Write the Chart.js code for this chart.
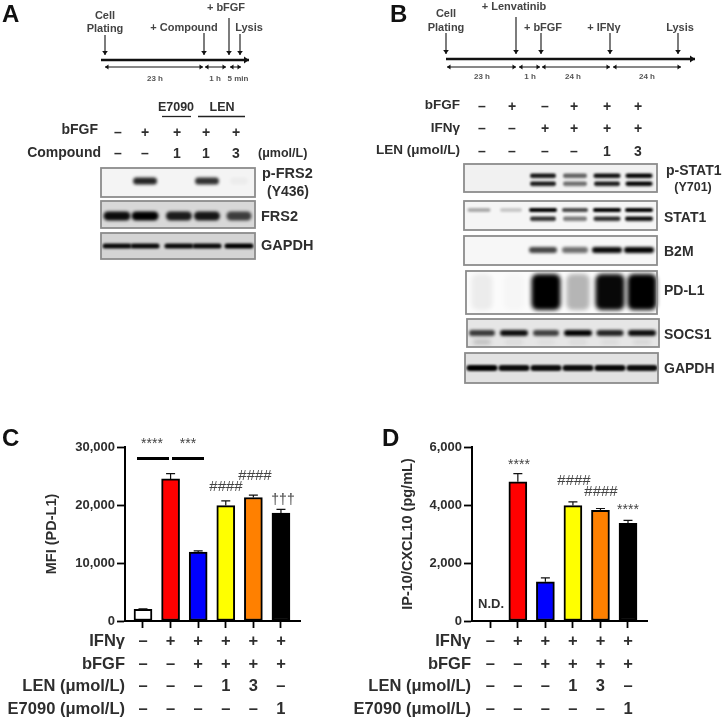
<!DOCTYPE html>
<html><head><meta charset="utf-8">
<script src="https://cdn.jsdelivr.net/npm/chart.js@4"></script>
<style>
html,body{margin:0;padding:0;background:#fff;width:723px;height:721px;overflow:hidden}
#page{position:relative;width:723px;height:721px;font-family:"Liberation Sans",Arial,sans-serif}
canvas{position:absolute;display:block}
.t{position:absolute;white-space:nowrap;line-height:1;font-weight:bold;color:#2e2e2e}
</style></head><body><div id="page"></div>
<script>
// ---------- Panel C / D data ----------
const barColors = ['#ffffff','#ff0000','#0000ff','#ffff00','#ff8000','#000000'];
const rowIFN   = ['–','+','+','+','+','+'];
const rowBFGF  = ['–','–','+','+','+','+'];
const rowLEN   = ['–','–','–','1','3','–'];
const rowE7090 = ['–','–','–','–','–','1'];
const mfiValues = [2000,24500,11900,19900,21300,18600];
const mfiUpper  = [2100,25400,12100,20700,21700,19250];
const ipValues  = [null,4800,1350,3980,3815,3370];
const ipUpper   = [null,5085,1490,4110,3880,3470];
const mfiTicks = [0,10000,20000,30000];
const ipTicks  = [0,2000,4000,6000];

// ---------- Panel A blot intensities (lanes 1-5) ----------
const pFRS2   = [0,.85,0,.8,.03];
const FRS2a   = [.95,1,.88,.9,.72];
const GAPDHa  = [.95,.95,.95,.95,1];
// ---------- Panel B blot intensities (lanes 1-6) ----------
const pSTAT1hi = [0,0,.92,.6,.95,1];
const pSTAT1lo = [0,0,.9,.55,.9,1];
const STAT1hi  = [.3,.18,1,.7,1,1];
const STAT1lo  = [0,0,.8,.5,.82,.95];
const B2M      = [0,0,.72,.55,.97,1];
const PDL1     = [.06,.02,1,.28,.97,1];
const SOCS1hi  = [.75,.95,.72,1,.85,.95];
const SOCS1lo  = [.18,.06,.04,.06,.05,.08];
const GAPDHb   = [1,.95,.95,.95,.97,.95];

const page = document.getElementById('page');
function label(text,x,y,size,align,extra){
  const d=document.createElement('div');d.className='t';d.textContent=text;
  d.style.fontSize=size+'px';d.style.left=x+'px';d.style.top=y+'px';
  const tx=align==='c'?'-50%':align==='r'?'-100%':'0';
  d.style.transform='translate('+tx+',-50%)';
  if(extra)Object.assign(d.style,extra);
  page.appendChild(d);
}
function makeCanvas(l,t,w,h){
  const c=document.createElement('canvas');c.width=w;c.height=h;
  c.style.left=l+'px';c.style.top=t+'px';c.style.width=w+'px';c.style.height=h+'px';
  page.appendChild(c);return c;
}
function makeBand(w,h,v,blur){
  const pad=Math.ceil(blur*3)+2;
  const c=document.createElement('canvas');c.width=w+pad*2;c.height=Math.ceil(h)+pad*2;
  const g=c.getContext('2d');
  g.filter='blur('+blur+'px)';
  g.fillStyle='rgba(0,0,0,'+Math.min(1,v)+')';
  g.beginPath();g.roundRect(pad,pad,w,h,Math.min(h/2,6));g.fill();
  return c;
}
function arrow(ctx,x1,y1,x2,y2,lw,head,both){
  ctx.save();ctx.strokeStyle=ctx.fillStyle='#111';ctx.lineWidth=lw;
  ctx.beginPath();ctx.moveTo(x1,y1);ctx.lineTo(x2,y2);ctx.stroke();
  const tip=(x,y,dx,dy)=>{ctx.beginPath();ctx.moveTo(x,y);
    ctx.lineTo(x-dx*head-dy*head*.7,y-dy*head-dx*head*.7);
    ctx.lineTo(x-dx*head+dy*head*.7,y-dy*head+dx*head*.7);ctx.closePath();ctx.fill();};
  const dx=Math.sign(x2-x1),dy=Math.sign(y2-y1);
  tip(x2,y2,dx,dy);if(both)tip(x1,y1,-dx,-dy);
  ctx.restore();
}
function blotChart(cfg){
  const {left,width,height,laneStart,laneStep,rows,timeline}=cfg;
  const canvas=makeCanvas(left,0,width,height);
  const datasets=[];
  rows.forEach(r=>r.lines.forEach(line=>{
    datasets.push({
      data:line.values.map((v,i)=>({x:(cfg.lanes?cfg.lanes[i]:i+1)+(r.shift||0)/laneStep,y:line.y})),
      pointStyle:line.values.map(v=>makeBand(Math.round(line.w*(.72+.28*v)),line.h,v,line.blur||1.4)),
      pointRadius:8,clip:false,showLine:false
    });
  }));
  const deco={id:'deco',
    beforeDatasetsDraw(ch){const c=ch.ctx;c.save();
      rows.forEach(r=>{c.fillStyle=r.bg;c.fillRect(r.l-left,r.t,r.r-r.l,r.b-r.t);});
      c.restore();},
    afterDatasetsDraw(ch){const c=ch.ctx;c.save();
      rows.forEach(r=>{c.strokeStyle='#8c8c8c';c.lineWidth=1.8;c.strokeRect(r.l-left,r.t,r.r-r.l,r.b-r.t);});
      const T=timeline;
      arrow(c,T.x0-left,T.y,T.x1-left,T.y,2.6,5);
      T.down.forEach(a=>arrow(c,a[0]-left,a[1],a[0]-left,T.y-5,1.1,4));
      T.spans.forEach(s=>arrow(c,s[0]-left,T.y2,s[1]-left,T.y2,1,3.5,true));
      (cfg.rules||[]).forEach(u=>{c.strokeStyle='#222';c.lineWidth=1.3;c.beginPath();c.moveTo(u[0]-left,u[2]);c.lineTo(u[1]-left,u[2]);c.stroke();});
      c.restore();}
  };
  new Chart(canvas,{type:'scatter',data:{datasets},plugins:[deco],options:{
    responsive:false,animation:false,events:[],layout:{padding:0,autoPadding:false},
    plugins:{legend:{display:false},tooltip:{enabled:false}},
    scales:{x:{type:'linear',display:false,min:laneStart-(cfg.lane1-left)/laneStep,max:laneStart+(left+width-cfg.lane1)/laneStep},
            y:{type:'linear',display:false,min:0,max:height,reverse:true}}
  }});
}
blotChart({left:0,width:370,height:270,laneStart:1,lane1:117,laneStep:30.5,lanes:[1,1.92,3.03,3.95,5],
  timeline:{x0:101,x1:249,y:60,y2:67,
    down:[[105,35],[204,33],[229,18],[240,34]],
    spans:[[105,203],[205,226],[230,241]]},
  rules:[[162,191,116.5],[198,245,116.5]],
  rows:[
   {t:168,b:197,l:101,r:255,bg:'#f4f4f4',lines:[{values:pFRS2,y:181,w:25,h:7,blur:1.6}]},
   {t:201,b:228,l:101,r:255,bg:'#d8d8d8',lines:[{values:FRS2a,y:216,w:27,h:9,blur:1.6}]},
   {t:233,b:259,l:101,r:255,bg:'#d4d4d4',lines:[{values:GAPDHa,y:246,w:29,h:5,blur:1.2}]}
  ]});
blotChart({left:370,width:353,height:400,laneStart:1,lane1:482,laneStep:32,
  timeline:{x0:446,x1:695,y:59,y2:67,
    down:[[446,33],[516,17],[541,33],[610,33],[678,33]],
    spans:[[447,516],[519,540],[542,610],[613,681]]},
  rows:[
   {t:164,b:192,l:464,r:657,bg:'#f1f1f1',shift:-3,lines:[{values:pSTAT1hi,y:176,w:27,h:4.5,blur:1},{values:pSTAT1lo,y:184,w:27,h:4.5,blur:1}]},
   {t:201,b:230,l:464,r:657,bg:'#f5f5f5',shift:-3,lines:[{values:STAT1hi,y:210,w:28,h:4,blur:.9},{values:STAT1lo,y:219,w:28,h:4.5,blur:1}]},
   {t:236,b:265,l:464,r:657,bg:'#f7f7f7',shift:-3,lines:[{values:B2M,y:250,w:30,h:6,blur:1.5}]},
   {t:271,b:314,l:466,r:657,bg:'#fbfbfb',lines:[{values:PDL1,y:292,w:29,h:36,blur:2}]},
   {t:319,b:347,l:467,r:659,bg:'#e6e6e6',lines:[{values:SOCS1hi,y:333,w:28,h:6,blur:1.5},{values:SOCS1lo,y:342,w:24,h:5,blur:2}]},
   {t:353,b:383,l:465,r:658,bg:'#e2e2e2',lines:[{values:GAPDHb,y:368,w:31,h:6,blur:1.3}]}
  ]});

// ---------- bar panels ----------
function barChart(cfg){
  const canvas=makeCanvas(cfg.left,cfg.top,cfg.width,cfg.height);
  const errorBars={id:'errorBars',afterDatasetsDraw(ch){
    const c=ch.ctx,x=ch.scales.x,y=ch.scales.y;c.save();c.strokeStyle='#111';c.lineWidth=1.2;
    cfg.upper.forEach((u,i)=>{ if(u==null)return;
      const px=x.getPixelForValue(i+1),p0=y.getPixelForValue(cfg.values[i]),p1=y.getPixelForValue(u);
      c.beginPath();c.moveTo(px,p0);c.lineTo(px,p1);c.moveTo(px-4.5,p1);c.lineTo(px+4.5,p1);c.stroke();});
    c.restore();}};
  const fix=(w,h)=>s=>{ if(w)s.width=w; if(h)s.height=h; };
  new Chart(canvas,{type:'bar',plugins:[errorBars],
   data:{datasets:[{data:cfg.values.map((v,i)=>({x:i+1,y:v})),backgroundColor:barColors,borderColor:'#000',borderWidth:2,borderSkipped:false,barThickness:18}]},
   options:{responsive:false,animation:false,events:[],
    layout:{padding:{left:0,top:cfg.padTop,right:cfg.padRight,bottom:0}},
    plugins:{legend:{display:false},tooltip:{enabled:false}},
    scales:{
     x:{type:'linear',offset:false,min:cfg.xMin,max:cfg.xMax,afterFit:fix(0,cfg.xH),
        afterBuildTicks:s=>{s.ticks=barColors.map((_,i)=>({value:i+1}));},
        grid:{offset:false,drawOnChartArea:false,drawTicks:true,tickLength:7,tickWidth:1.8,tickColor:'#000'},
        border:{color:'#000',width:2},
        ticks:{autoSkip:false,maxRotation:0,minRotation:0,padding:2,color:'#2e2e2e',
          font:{family:'"Liberation Sans"',size:16.5,weight:'bold',lineHeight:'22.7px'},
          callback:(v)=>{const i=v-1;return [rowIFN[i],rowBFGF[i],rowLEN[i],rowE7090[i]];}}},
     y:{type:'linear',min:0,max:cfg.yMax,afterFit:fix(cfg.yW,0),
        afterBuildTicks:s=>{s.ticks=cfg.ticks.map(v=>({value:v}));},
        grid:{drawOnChartArea:false,drawTicks:true,tickLength:8,tickWidth:1.8,tickColor:'#000'},
        border:{color:'#000',width:2},
        title:{display:true,text:cfg.title,color:'#2e2e2e',padding:{top:cfg.titlePad,bottom:0},
          font:{family:'"Liberation Sans"',size:cfg.titleSize,weight:'bold',lineHeight:1}},
        ticks:{padding:2,color:'#2e2e2e',font:{family:'"Liberation Sans"',size:13,weight:'bold'},
          callback:v=>Number(v).toLocaleString('en-US')}}
    }}});
}
barChart({left:0,top:420,width:340,height:301,padTop:27,padRight:40,xH:100,yW:125,xMin:.348,xMax:6.69,
  yMax:30000,values:mfiValues,upper:mfiUpper,ticks:mfiTicks,title:'MFI (PD-L1)',titlePad:45,titleSize:14.5});
barChart({left:370,top:420,width:353,height:301,padTop:27,padRight:76,xH:100,yW:102,xMin:.335,xMax:6.69,
  yMax:6000,values:ipValues,upper:ipUpper,ticks:ipTicks,title:'IP-10/CXCL10 (pg/mL)',titlePad:31,titleSize:14.5});

// ---------- text ----------
const small={color:'#444'};
[['A',2,14,24,'l'],['B',390,14,24,'l'],['C',2,438,24,'l'],['D',382,438,24,'l']].forEach(a=>label(...a,{color:'#111'}));
// panel A timeline
[['Cell',105,15],['Plating',105,28],['+ Compound',184,27],['+ bFGF',226,7],['Lysis',249,27]].forEach(a=>label(a[0],a[1],a[2],11,'c',small));
[['23 h',155,79],['1 h',215,79],['5 min',238,79]].forEach(a=>label(a[0],a[1],a[2],8,'c',{color:'#555'}));
label('E7090',176,107,12.5,'c');label('LEN',222,107,12.5,'c');
label('bFGF',98,129,14,'r');label('Compound',101,152,14,'r');
const aMarks=[118,145,177,206,236];
const aRow1=['–','+','+','+','+'],aRow2=['–','–','1','1','3'];
aMarks.forEach((x,i)=>{label(aRow1[i],x,132,14,'c');label(aRow2[i],x,153,14,'c');});
label('(μmol/L)',258,153,12.5,'l');
label('p-FRS2',262,173,14.5,'l');label('(Y436)',288,191,14,'c');
label('FRS2',261,216,14.5,'l');label('GAPDH',261,245,14.5,'l');
// panel B timeline
[['Cell',446,13],['Plating',446,27],['+ Lenvatinib',514,6],['+ bFGF',543,27],['+ IFNγ',604,27],['Lysis',680,27]].forEach(a=>label(a[0],a[1],a[2],11,'c',small));
[['23 h',482,77],['1 h',530,77],['24 h',573,77],['24 h',647,77]].forEach(a=>label(a[0],a[1],a[2],8,'c',{color:'#555'}));
label('bFGF',460,105,13.5,'r');label('IFNγ',460,128,13.5,'r');label('LEN (μmol/L)',460,150,13.5,'r');
const bMarks=[482,512,545,574,607,638];
const bRow1=['–','+','–','+','+','+'],bRow2=['–','–','+','+','+','+'],bRow3=['–','–','–','–','1','3'];
bMarks.forEach((x,i)=>{label(bRow1[i],x,106,14,'c');label(bRow2[i],x,128,14,'c');label(bRow3[i],x,151,14,'c');});
[['p-STAT1',666,170],['STAT1',664,217],['B2M',664,251],['PD-L1',664,290],['SOCS1',664,334],['GAPDH',664,368]].forEach(a=>label(a[0],a[1],a[2],14,'l'));
label('(Y701)',693,187,12.5,'c');
// panel C row titles and marks
['IFNγ','bFGF','LEN (μmol/L)','E7090 (μmol/L)'].forEach((t,i)=>{
  label(t,125,640+i*22.7,16.5,'r');
  label(t,471,640+i*22.7,16.5,'r');
});
const note={fontWeight:'normal',color:'#444'};
[['****',152,443],['***',188,443]].forEach(a=>label(a[0],a[1],a[2],14,'c',note));
[['####',226,485],['####',255,474]].forEach(a=>label(a[0],a[1],a[2],15,'c',note));
label('†††',283,499,14,'c',note);
[['****',519,464],['****',628,509]].forEach(a=>label(a[0],a[1],a[2],14,'c',note));
[['####',574,479],['####',601,490]].forEach(a=>label(a[0],a[1],a[2],15,'c',note));
label('N.D.',491,603,13,'c');
[[137,169],[172,204]].forEach(s=>{const d=document.createElement('div');
  d.style.cssText='position:absolute;background:#000;height:2.5px;top:457px;left:'+s[0]+'px;width:'+(s[1]-s[0])+'px';page.appendChild(d);});
</script></body></html>
